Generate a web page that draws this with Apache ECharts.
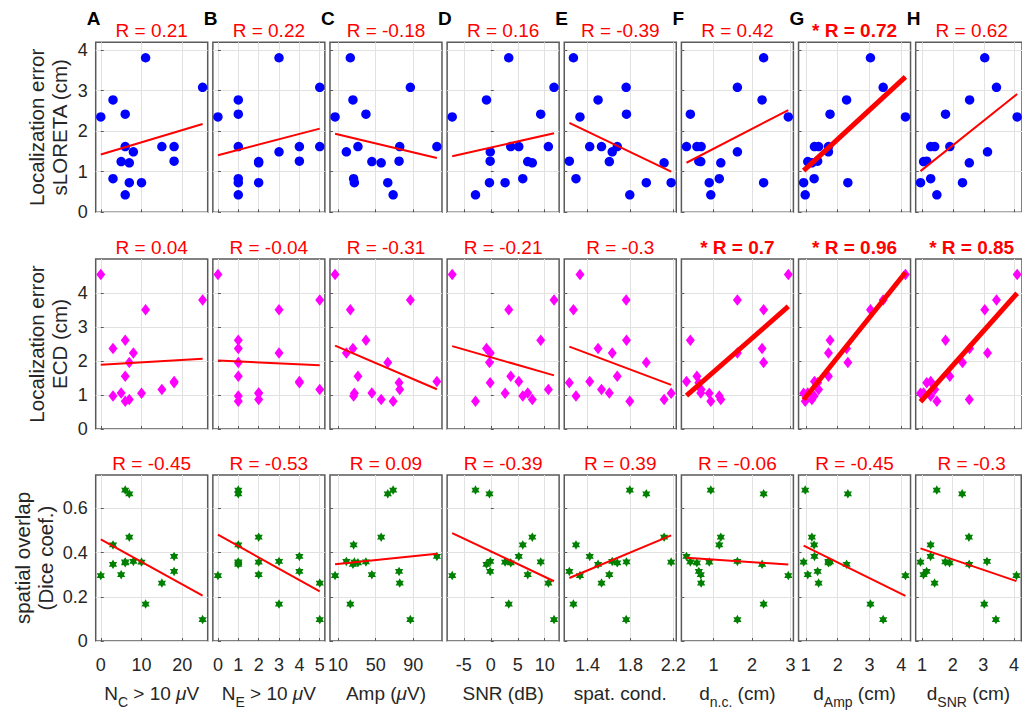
<!DOCTYPE html>
<html><head><meta charset="utf-8">
<script src="https://cdn.jsdelivr.net/npm/echarts@6/dist/echarts.min.js"></script>
<style>html,body{margin:0;padding:0;background:#fff;overflow:hidden}#c{width:1022px;height:710px}</style>
</head><body><div id="c"></div>
<script>
// ---- data: 16 subjects ----
const errSLORETA = [3.81,3.08,2.77,2.35,2.42,1.62,1.49,1.25,1.22,1.62,1.62,1.26,0.83,0.73,0.73,0.43];
const errECD     = [3.51,3.80,2.37,4.55,2.61,1.55,2.24,1.06,0.87,1.16,1.40,1.36,0.97,1.96,1.05,0.82];
const diceCoef   = [0.167,0.097,0.347,0.296,0.358,0.354,0.36,0.30,0.47,0.262,0.383,0.315,0.435,0.666,0.357,0.683];
const nC       = [11,25,3,0,6,6,8,5,7,15,18,18,3,7,10,6];
const nE       = [3,5,1,0,1,1,3,2,2,5,4,4,1,1,2,1];
const amp      = [23,86.8,25.8,6.8,39.6,31.1,18.8,45.9,55.8,75.5,115,74.8,26.5,62.8,27.3,68.5];
const snr      = [3.33,11.73,-0.8,-7.16,9.26,3.7,-0.1,6.85,7.7,10.68,5.19,-0.12,5.93,-0.25,2.65,-2.84];
const spatCond = [1.268,1.76,1.498,1.329,1.763,1.677,1.63,1.603,2.114,1.53,1.42,1.23,1.292,1.948,2.18,1.794];
const dNC      = [2.30,1.62,2.26,2.94,0.40,0.57,1.62,0.67,1.19,0.68,0.30,0.62,1.15,2.30,0.89,0.93];
const dAmp     = [3.03,3.43,2.28,4.13,1.76,1.71,1.71,1.06,1.19,1.40,1.27,1.37,1.26,2.32,0.93,0.98];
const dSNR     = [3.03,3.41,2.54,4.08,1.76,1.90,3.12,1.05,2.53,1.41,1.28,1.15,1.28,2.31,0.95,1.48];

const rSLORETA = [0.21,0.22,-0.18,0.16,-0.39,0.42,0.72,0.62];
const rECD     = [0.04,-0.04,-0.31,-0.21,-0.3,0.7,0.96,0.85];
const rDice    = [-0.45,-0.53,0.09,-0.39,0.39,-0.06,-0.45,-0.3];
const sigSLORETA = [0,0,0,0,0,0,1,0];
const sigECD     = [0,0,0,0,0,1,1,1];
const sigDice    = [0,0,0,0,0,0,0,0];

const panelLetters = ['A','B','C','D','E','F','G','H'];
const xNames = ['N{s|C} > 10 {m|\u03bc}V','N{s|E} > 10 {m|\u03bc}V','Amp ({m|\u03bc}V)','SNR (dB)','spat. cond.','d{s|n.c.} (cm)','d{s|Amp} (cm)','d{s|SNR} (cm)'];
const yNames = ['Localization error\nsLORETA (cm)','Localization error\nECD (cm)','spatial overlap\n(Dice coef.)'];
const xTicks = [[0,10,20],[0,1,2,3,4,5],[10,50,90],[-5,0,5,10],[1.4,1.8,2.2],[1,2,3],[1,2,3,4],[1,2,3,4]];
const yTicks = [[0,1,2,3,4],[0,1,2,3,4],[0,0.2,0.4,0.6]];

// ---- assembly ----
const cols = [nC,nE,amp,snr,spatCond,dNC,dAmp,dSNR];
const rows = [errSLORETA,errECD,diceCoef];
const rVals = [rSLORETA,rECD,rDice];
const sigs = [sigSLORETA,sigECD,sigDice];
const FF = '"Liberation Sans", Arial, Helvetica, sans-serif';
const TXT = '#262626', BOX = '#5a5a5a', GRIDC = '#e2e2e2';
const L0 = 95.7, DX = 117.14, W = 112, TOPS = [42.3,259,475], H = 170;

function hexagram(){let p='';for(let k=0;k<12;k++){const a=(-90+k*30)*Math.PI/180;const r=k%2===0?10:5.77;p+=(k===0?'M':'L')+(r*Math.cos(a)).toFixed(3)+' '+(r*Math.sin(a)).toFixed(3)+' ';}return 'path://'+p+'Z';}
const symbols = [
  {symbol:'circle', size:9.5, color:'#0000ff'},
  {symbol:'diamond', size:[9,11.5], color:'#ff00ff'},
  {symbol:hexagram(), size:9.5, color:'#008000'}
];
function fitLine(xs, ys){
  const n=xs.length; let mx=0,my=0; for(let i=0;i<n;i++){mx+=xs[i];my+=ys[i];} mx/=n; my/=n;
  let sxx=0,sxy=0; for(let i=0;i<n;i++){sxx+=(xs[i]-mx)**2; sxy+=(xs[i]-mx)*(ys[i]-my);}
  const b=sxy/sxx, a=my-b*mx; const x0=Math.min(...xs), x1=Math.max(...xs);
  return [[x0,a+b*x0],[x1,a+b*x1]];
}
const grids=[], xAxes=[], yAxes=[], series=[], graphics=[];
for(let r=0;r<3;r++){
  const ys=rows[r]; const ymax=1.1*Math.max(...ys);
  for(let c=0;c<8;c++){
    const xs=cols[c]; const idx=r*8+c;
    const xmn=Math.min(...xs), xmx=Math.max(...xs), pad=0.05*(xmx-xmn);
    const left=L0+c*DX;
    grids.push({left:left, top:TOPS[r], width:W, height:H, show:true, borderColor:BOX, borderWidth:1.5, backgroundColor:'#fff'});
    xAxes.push({gridIndex:idx, type:'value', min:xmn-pad, max:xmx+pad,
      axisLine:{show:false},
      axisTick:{show:true, inside:true, length:3, lineStyle:{color:BOX}, customValues:xTicks[c]},
      axisLabel:{show:r===2, customValues:xTicks[c], fontSize:18, color:TXT, fontFamily:FF, margin:15},
      splitLine:{show:true, lineStyle:{color:GRIDC, width:1}},
      name:r===2?xNames[c]:'', nameLocation:'middle', nameGap:36,
      nameTextStyle:{fontSize:19, color:TXT, fontFamily:FF, lineHeight:32,
        rich:{s:{fontSize:14, lineHeight:14, verticalAlign:'bottom', color:TXT, fontFamily:FF},
              m:{fontSize:19, lineHeight:32, fontStyle:'italic', color:TXT, fontFamily:FF}}}
    });
    yAxes.push({gridIndex:idx, type:'value', min:0, max:ymax,
      axisLine:{show:false},
      axisTick:{show:true, inside:true, length:3, lineStyle:{color:BOX}, customValues:yTicks[r]},
      axisLabel:{show:c===0, customValues:yTicks[r], fontSize:18, color:TXT, fontFamily:FF, margin:8},
      splitLine:{show:true, lineStyle:{color:GRIDC, width:1}},
      name:c===0?yNames[r]:'', nameLocation:'middle', nameRotate:90, nameGap:r===2?39:25,
      nameTextStyle:{fontSize:20.5, color:TXT, fontFamily:FF, lineHeight:22.5}
    });
    const sym=symbols[r];
    series.push({type:'scatter', xAxisIndex:idx, yAxisIndex:idx, data:xs.map((v,i)=>[v,ys[i]]),
      symbol:sym.symbol, symbolSize:sym.size, symbolKeepAspect:true, itemStyle:{color:sym.color, opacity:1}, z:2, silent:true});
    const sig=sigs[r][c];
    series.push({type:'line', xAxisIndex:idx, yAxisIndex:idx, data:fitLine(xs,ys), symbol:'none',
      lineStyle:{color:'#ff0000', width:sig?5:2}, z:3, silent:true});
    graphics.push({type:'text', x:left+W/2, y:TOPS[r]-11.5, style:{text:(sig?'* ':'')+'R = '+String(rVals[r][c]),
      fill:'#ff0000', fontSize:19, fontWeight:sig?'bold':'normal', fontFamily:FF, align:'center', verticalAlign:'middle'}});
    if(r===0){
      graphics.push({type:'text', x:left-9, y:18.5, style:{text:panelLetters[c], fill:'#000', fontSize:19, fontWeight:'bold', fontFamily:FF, align:'left', verticalAlign:'middle'}});
    }
  }
}
const chart=echarts.init(document.getElementById('c'),null,{renderer:'svg'});
chart.setOption({animation:false, backgroundColor:'#fff', grid:grids, xAxis:xAxes, yAxis:yAxes, series:series, graphic:graphics});
</script></body></html>
